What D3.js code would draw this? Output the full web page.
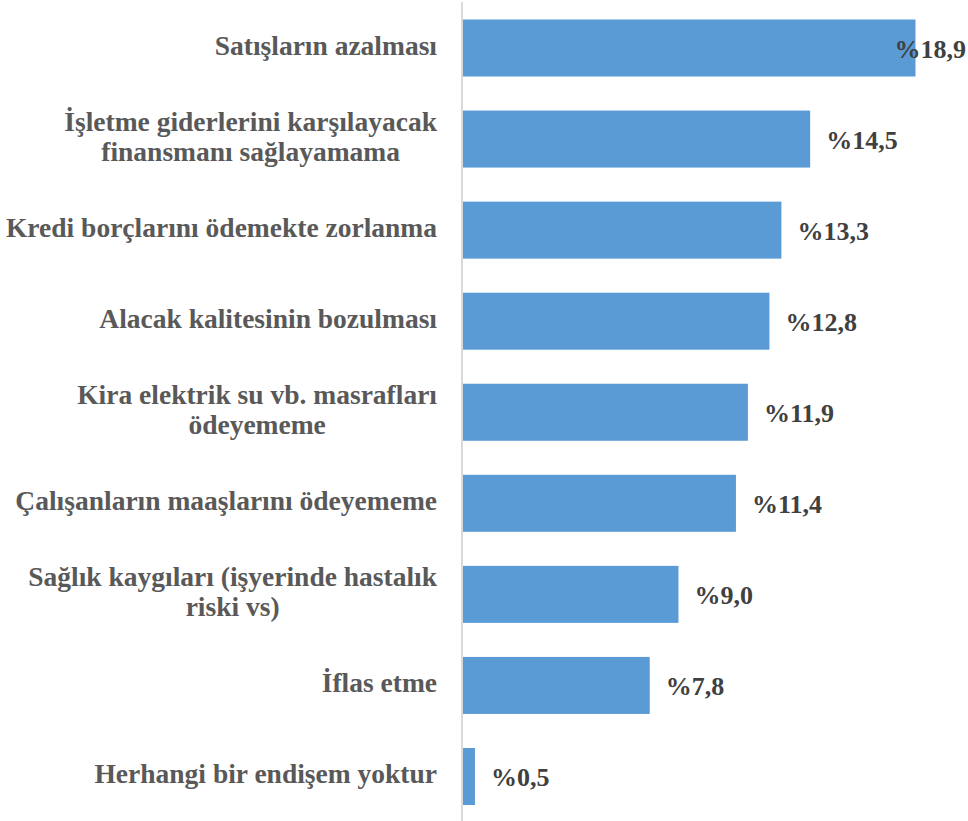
<!DOCTYPE html>
<html><head><meta charset="utf-8">
<script src="https://cdn.jsdelivr.net/npm/d3@7"></script>
<style>body{margin:0;background:#fff}svg{display:block}</style>
</head><body>
<svg id="c" width="968" height="821"></svg>
<script>
const categories = [
  "Satışların azalması",
  "İşletme giderlerini karşılayacak\nfinansmanı sağlayamama",
  "Kredi borçlarını ödemekte zorlanma",
  "Alacak kalitesinin bozulması",
  "Kira elektrik su vb. masrafları\nödeyememe",
  "Çalışanların maaşlarını ödeyememe",
  "Sağlık kaygıları (işyerinde hastalık\nriski vs)",
  "İflas etme",
  "Herhangi bir endişem yoktur"
];
const values = [18.9, 14.5, 13.3, 12.8, 11.9, 11.4, 9.0, 7.8, 0.5];
const valueLabels = ["%18,9","%14,5","%13,3","%12,8","%11,9","%11,4","%9,0","%7,8","%0,5"];

const W = 968, H = 821;
const x0 = 463;
const svg = d3.select("#c");
const x = d3.scaleLinear().domain([0, 18.9]).range([x0, 915.5]);
const y = d3.scaleBand().domain(d3.range(categories.length)).range([19.5, 805]).paddingInner(0.374).paddingOuter(0);

// bars
svg.selectAll("rect.bar").data(values).join("rect")
  .attr("class","bar")
  .attr("x", x0).attr("y", (d,i)=>y(i))
  .attr("width", d=>x(d)-x0).attr("height", y.bandwidth())
  .attr("fill", "#5B9BD5");

// axis line
svg.append("line").attr("x1", 462).attr("x2", 462).attr("y1", 2).attr("y2", H)
  .attr("stroke", "#d9d9d9").attr("stroke-width", 2);

const font = "'Liberation Serif', 'Times New Roman', serif";
const rightEdge = 437;
// category labels
const cat = svg.selectAll("text.cat").data(categories).join("text")
  .attr("class","cat")
  .attr("font-family", font).attr("font-weight","bold")
  .attr("font-size", 27.5).attr("fill","#595959");
cat.each(function(d,i){
  const lines = d.split("\n");
  const cy = y(i) + y.bandwidth()/2;
  const lh = 30;
  const start = cy + 6.5 - (lines.length-1)*lh/2;
  const t = d3.select(this);
  const spans = lines.map((l,k)=> t.append("tspan").attr("y", start + k*lh).text(l));
  const maxW = d3.max(spans, s => s.node().getComputedTextLength());
  t.attr("text-anchor","middle");
  spans.forEach(s => s.attr("x", rightEdge - maxW/2));
});

// value labels
svg.selectAll("text.val").data(values).join("text")
  .attr("class","val")
  .attr("font-family", font).attr("font-weight","bold")
  .attr("font-size", 26).attr("fill","#404040")
  .attr("y", (d,i)=> y(i) + y.bandwidth()/2 + 9.5)
  .text((d,i)=>valueLabels[i])
  .attr("x", function(d){
    const w = this.getComputedTextLength();
    return Math.min(x(d) + 16, W - w - 2);
  });
</script>
</body></html>
